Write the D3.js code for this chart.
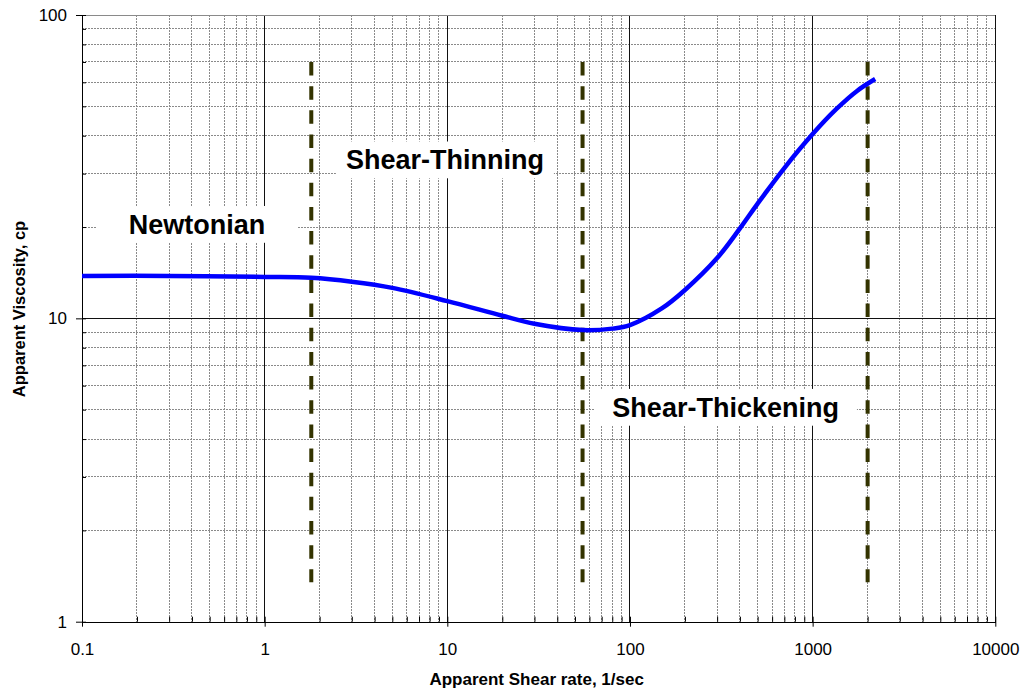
<!DOCTYPE html>
<html>
<head>
<meta charset="utf-8">
<script src="https://cdn.jsdelivr.net/npm/d3@7"></script>
<style>
  html, body { margin: 0; padding: 0; background: #fff; }
  svg { display: block; }
  text { font-family: "Liberation Sans", Arial, sans-serif; }
</style>
</head>
<body>
<svg id="chart" width="1026" height="692"></svg>
<script>
// Apparent viscosity vs. apparent shear rate
const shearRate = [0.1, 0.3, 1, 1.8, 3, 5, 10, 20, 30, 55, 80, 100, 150, 200, 300, 400, 500, 700, 1000, 1350, 1750, 2200];
const viscosity = [13.8, 13.8, 13.7, 13.6, 13.2, 12.6, 11.4, 10.2, 9.6, 9.15, 9.25, 9.5, 10.8, 12.4, 15.8, 19.8, 23.9, 31.3, 40.5, 49.0, 56.2, 61.5];

// Regime boundaries (vertical dashed markers)
const boundaryRates = [1.8, 55, 2000];
const boundaryLow = 1.35;
const boundaryHigh = 70;

// Regime labels
const regionLabels = ["Newtonian", "Shear-Thinning", "Shear-Thickening"];
const regionRate = [0.426, 9.7, 334];
const regionVisc = [19, 31, 4.74];

// Axis ticks
const xTickLabels = [0.1, 1, 10, 100, 1000, 10000];
const yTickLabels = [1, 10, 100];

const xTitle = "Apparent Shear rate, 1/sec";
const yTitle = "Apparent Viscosity, cp";

const svg = d3.select("#chart");
const L = 82, R = 995.3, T = 15, B = 621.7;

const x = d3.scaleLog().domain([0.1, 10000]).range([L, R]);
const y = d3.scaleLog().domain([1, 100]).range([B, T]);

// minor grid values
const xMinor = [];
for (let d = 0.1; d < 10000; d *= 10) for (let k = 2; k <= 9; k++) xMinor.push(+(d * k).toPrecision(3));
const yMinor = [];
for (let d = 1; d < 100; d *= 10) for (let k = 2; k <= 9; k++) yMinor.push(d * k);

const grid = svg.append("g");
grid.selectAll(".vminor").data(xMinor).join("line")
  .attr("x1", d => x(d)).attr("x2", d => x(d)).attr("y1", T).attr("y2", B)
  .attr("stroke", "#8a8a8a").attr("stroke-width", 1).attr("stroke-dasharray", "2,1")
  .attr("shape-rendering", "crispEdges");
grid.selectAll(".hminor").data(yMinor).join("line")
  .attr("x1", L).attr("x2", R).attr("y1", d => y(d)).attr("y2", d => y(d))
  .attr("stroke", "#8a8a8a").attr("stroke-width", 1).attr("stroke-dasharray", "2,1")
  .attr("shape-rendering", "crispEdges");
grid.selectAll(".vmajor").data(xTickLabels.slice(1)).join("line")
  .attr("x1", d => x(d)).attr("x2", d => x(d)).attr("y1", T).attr("y2", B)
  .attr("stroke", "#111").attr("stroke-width", 1)
  .attr("shape-rendering", "crispEdges");
grid.selectAll(".hmajor").data([10]).join("line")
  .attr("x1", L).attr("x2", R).attr("y1", d => y(d)).attr("y2", d => y(d))
  .attr("stroke", "#111").attr("stroke-width", 1)
  .attr("shape-rendering", "crispEdges");
// top border
grid.append("line").attr("x1", L).attr("x2", R).attr("y1", y(100)).attr("y2", y(100))
  .attr("stroke", "#8a8a8a").attr("stroke-width", 1).attr("shape-rendering", "crispEdges");

// Axes: major ticks cross the axis line, minor ticks point inward
const xAxisMajor = d3.axisBottom(x).tickValues(xTickLabels).tickFormat(d => String(d)).tickSizeInner(5).tickSizeOuter(0).tickPadding(16);
const gx = svg.append("g").attr("transform", `translate(0,${B})`).call(xAxisMajor);
gx.select(".domain").attr("stroke", "#000").attr("shape-rendering", "crispEdges");
gx.selectAll(".tick line").attr("y1", -5).attr("stroke", "#000");
gx.selectAll(".tick text").attr("font-size", 17).attr("fill", "#000")
  .attr("font-family", "Liberation Sans, Arial, sans-serif");
const xAxisMinor = d3.axisTop(x).tickValues(xMinor).tickFormat("").tickSize(5).tickSizeOuter(0);
const gxm = svg.append("g").attr("transform", `translate(0,${B})`).call(xAxisMinor);
gxm.select(".domain").remove();
gxm.selectAll(".tick line").attr("stroke", "#000");

const yAxisMajor = d3.axisLeft(y).tickValues(yTickLabels).tickFormat(d => String(d)).tickSizeInner(6).tickSizeOuter(0).tickPadding(9);
const gy = svg.append("g").attr("transform", `translate(${L},0)`).call(yAxisMajor);
gy.select(".domain").attr("stroke", "#000").attr("shape-rendering", "crispEdges");
gy.selectAll(".tick line").attr("x2", -6).attr("x1", 4).attr("stroke", "#000");
gy.selectAll(".tick text").attr("font-size", 17).attr("fill", "#000")
  .attr("font-family", "Liberation Sans, Arial, sans-serif");
const yAxisMinor = d3.axisRight(y).tickValues(yMinor).tickFormat("").tickSize(4).tickSizeOuter(0);
const gym = svg.append("g").attr("transform", `translate(${L},0)`).call(yAxisMinor);
gym.select(".domain").remove();
gym.selectAll(".tick line").attr("stroke", "#000");

// Regime label boxes
const padX = [32, 10, 18];
const labelG = svg.append("g");
regionLabels.forEach((t, i) => {
  const g = labelG.append("g");
  const rect = g.append("rect").attr("fill", "#fff");
  const txt = g.append("text")
    .attr("x", x(regionRate[i])).attr("y", y(regionVisc[i]))
    .attr("text-anchor", "middle")
    .attr("font-size", 27).attr("font-weight", "bold").attr("fill", "#000")
    .text(t);
  const bb = txt.node().getBBox();
  const base = y(regionVisc[i]);
  rect.attr("x", bb.x - padX[i]).attr("width", bb.width + 2 * padX[i])
    .attr("y", base - 19.3 - 8.5).attr("height", 19.3 + 8.5 + 9);
});

// Boundary markers
svg.append("g").selectAll("line").data(boundaryRates).join("line")
  .attr("x1", d => x(d)).attr("x2", d => x(d))
  .attr("y1", y(boundaryHigh)).attr("y2", y(boundaryLow))
  .attr("stroke", "#333300").attr("stroke-width", 4)
  .attr("stroke-dasharray", "13.5,10.66");

// Viscosity curve
const pts = shearRate.map((s, i) => [s, viscosity[i]]);
svg.append("path").datum(pts)
  .attr("d", d3.line().x(d => x(d[0])).y(d => y(d[1])).curve(d3.curveCatmullRom.alpha(0.5)))
  .attr("fill", "none").attr("stroke", "#0000ff").attr("stroke-width", 4.5)
  .attr("stroke-linecap", "butt").attr("stroke-linejoin", "round");

// Axis titles
svg.append("text").attr("x", (L + R) / 2 - 2).attr("y", 685)
  .attr("text-anchor", "middle").attr("font-size", 17).attr("font-weight", "bold")
  .text(xTitle);
svg.append("text").attr("transform", `translate(25,309) rotate(-90)`)
  .attr("text-anchor", "middle").attr("font-size", 16.5).attr("font-weight", "bold")
  .text(yTitle);
</script>
</body>
</html>
